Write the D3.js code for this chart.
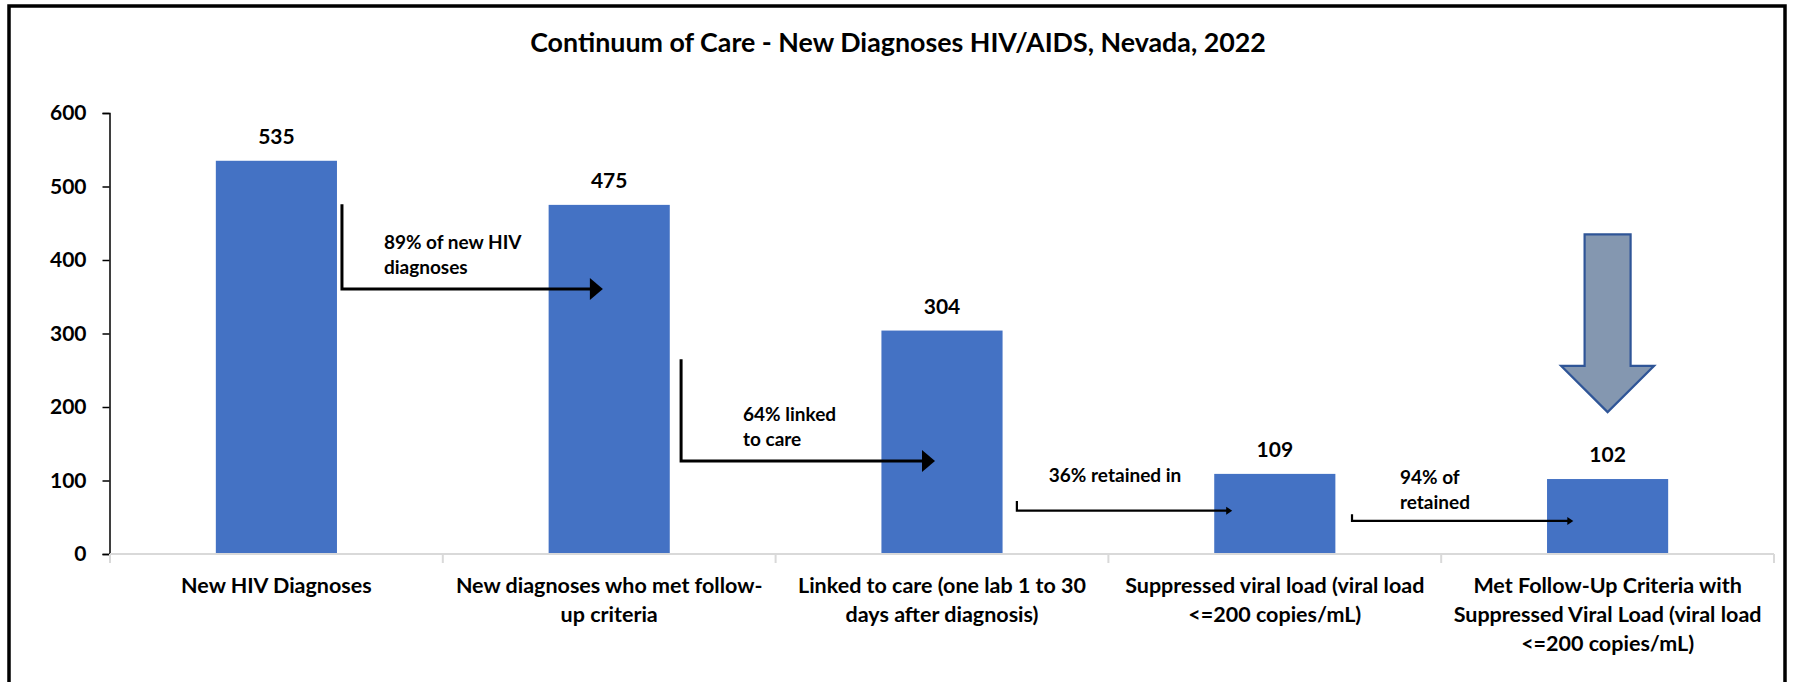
<!DOCTYPE html>
<html>
<head>
<meta charset="utf-8">
<script src="https://cdn.jsdelivr.net/npm/d3@7"></script>
<style>
  body { margin: 0; background: #fff; }
  svg text { font-family: Lato, "Open Sans", sans-serif; fill: #000; }
</style>
</head>
<body>
<svg id="chart"></svg>
<script>
const width = 1796;
const height = 682;

// ---- data ----
const categories = [
  "New HIV Diagnoses",
  "New diagnoses who met follow-up criteria",
  "Linked to care (one lab 1 to 30 days after diagnosis)",
  "Suppressed viral load (viral load <=200 copies/mL)",
  "Met Follow-Up Criteria with Suppressed Viral Load (viral load <=200 copies/mL)"
];
// wrapped the way the original wraps them
const categoryLines = [
  ["New HIV Diagnoses"],
  ["New diagnoses who met follow-", "up criteria"],
  ["Linked to care (one lab 1 to 30", "days after diagnosis)"],
  ["Suppressed viral load (viral load", "<=200 copies/mL)"],
  ["Met Follow-Up Criteria with", "Suppressed Viral Load (viral load", "<=200 copies/mL)"]
];
const values = [535, 475, 304, 109, 102];
const yTicks = [0, 100, 200, 300, 400, 500, 600];
const stepLabels = [
  ["89% of new HIV", "diagnoses"],
  ["64% linked", "to care"],
  ["36% retained in"],
  ["94% of", "retained"]
];
const title = "Continuum of Care - New Diagnoses HIV/AIDS, Nevada, 2022";

// ---- layout ----
const svg = d3.select("#chart").attr("width", width).attr("height", height);

const x = d3.scaleBand()
  .domain(categories)
  .range([110, 1774])
  .paddingInner(0.636)
  .paddingOuter(0.318);

const y = d3.scaleLinear().domain([0, 600]).range([554, 113]);

const step = x.step();
const bandStart = i => x(categories[i]) - step * x.paddingOuter();
const center = i => x(categories[i]) + x.bandwidth() / 2;

// frame
svg.append("rect")
  .attr("x", 9).attr("y", 6)
  .attr("width", 1776).attr("height", 720)
  .attr("fill", "none").attr("stroke", "#000").attr("stroke-width", 3.5);

svg.append("text")
  .attr("x", 898).attr("y", 52)
  .attr("text-anchor", "middle")
  .attr("font-size", 26.8).attr("font-weight", "bold")
  .text(title);

// y axis
const yAxis = svg.append("g")
  .attr("transform", "translate(109.5,0)")
  .call(d3.axisLeft(y).tickValues(yTicks).tickSize(7).tickPadding(16).tickFormat(d3.format("d")));
yAxis.select(".domain").attr("stroke", "#000").attr("stroke-width", 1.5);
yAxis.selectAll(".tick line").attr("stroke", "#000").attr("stroke-width", 1.5);
yAxis.selectAll(".tick text")
  .attr("font-size", 21).attr("font-weight", "bold")
  .attr("font-family", "Lato, sans-serif").attr("fill", "#000");

// bars
svg.append("g").selectAll("rect")
  .data(values)
  .join("rect")
  .attr("x", (d, i) => x(categories[i]))
  .attr("y", d => y(d))
  .attr("width", x.bandwidth())
  .attr("height", d => y(0) - y(d))
  .attr("fill", "#4472C4");

svg.append("g").selectAll("text")
  .data(values)
  .join("text")
  .attr("x", (d, i) => center(i))
  .attr("y", d => y(d) - 17)
  .attr("text-anchor", "middle")
  .attr("font-size", 21).attr("font-weight", "bold")
  .text(d => d);

// x axis (grey baseline, ticks between categories)
const xg = svg.append("g");
xg.append("line")
  .attr("x1", 110).attr("x2", 1774)
  .attr("y1", y(0)).attr("y2", y(0))
  .attr("stroke", "#d9d9d9").attr("stroke-width", 2);
xg.selectAll(".sep")
  .data(d3.range(categories.length + 1))
  .join("line")
  .attr("class", "sep")
  .attr("x1", i => 110 + i * step).attr("x2", i => 110 + i * step)
  .attr("y1", y(0)).attr("y2", y(0) + 9)
  .attr("stroke", "#d9d9d9").attr("stroke-width", 2);

xg.selectAll(".cat")
  .data(categoryLines)
  .join("text")
  .attr("class", "cat")
  .attr("text-anchor", "middle")
  .attr("font-size", 21.5).attr("font-weight", "bold")
  .each(function (lines, i) {
    d3.select(this).selectAll("tspan")
      .data(lines)
      .join("tspan")
      .attr("x", center(i))
      .attr("y", (l, j) => 593 + j * 29)
      .text(l => l);
  });

// elbow arrows between bars: fractions of a band step, heights in data units
const arrows = [
  { line: 0.697, top: 476, level: 360.5, tip: 0.481, tx: 0.823, ty: 415, big: true },
  { line: 0.716, top: 265, level: 126.5, tip: 0.479, tx: 0.902, ty: 181, big: true },
  { line: 0.725, top: 72, level: 59, tip: 0.372, tx: 0.821, ty: 98, big: false },
  { line: 0.732, top: 54, level: 45, tip: 0.397, tx: 0.876, ty: 95, big: false }
];

const ag = svg.append("g");
arrows.forEach((a, i) => {
  const x0 = bandStart(i) + a.line * step;
  const x1 = bandStart(i + 1) + a.tip * step;
  const yl = y(a.level);
  const headLen = a.big ? 13 : 6;
  const headW = a.big ? 11 : 4;
  ag.append("path")
    .attr("d", `M${x0},${y(a.top)}V${yl}H${x1 - headLen + 1}`)
    .attr("fill", "none")
    .attr("stroke", "#000")
    .attr("stroke-width", a.big ? 3 : 2.2);
  ag.append("path")
    .attr("d", `M${x1},${yl}L${x1 - headLen},${yl - headW}L${x1 - headLen},${yl + headW}Z`)
    .attr("fill", "#000");

  ag.append("text")
    .attr("font-size", 19).attr("font-weight", "bold")
    .selectAll("tspan")
    .data(stepLabels[i])
    .join("tspan")
    .attr("x", bandStart(i) + a.tx * step)
    .attr("y", (l, j) => y(a.ty) + j * 25)
    .text(l => l);
});

// block arrow pointing at the last bar
const bx = center(4);
const shaft = 23, wing = 46.5;
const bTop = y(435), bBase = y(256), bTip = y(193);
svg.append("path")
  .attr("d", `M${bx - shaft},${bTop}H${bx + shaft}V${bBase}H${bx + wing}L${bx},${bTip}L${bx - wing},${bBase}H${bx - shaft}Z`)
  .attr("fill", "#8497B0")
  .attr("stroke", "#2F5597")
  .attr("stroke-width", 2.2)
  .attr("stroke-linejoin", "miter");
</script>
</body>
</html>
